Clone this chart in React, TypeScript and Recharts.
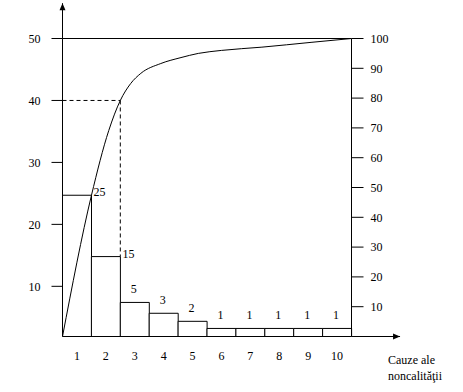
import { Bar, ComposedChart, Label, LabelList, Line, ReferenceLine, XAxis, YAxis } from "recharts"

const causes = ["1", "2", "3", "4", "5", "6", "7", "8", "9", "10"]
// numbers written on the bars
const counts = [25, 15, 5, 3, 2, 1, 1, 1, 1, 1]
// bar heights as they are drawn against the left scale (the sketch is not to scale)
const barHeights = [24.7, 14.8, 7.4, 5.65, 4.35, 3.2, 3.2, 3.2, 3.2, 3.2]
const leftTicks = [10, 20, 30, 40, 50]
const rightTicks = [10, 20, 30, 40, 50, 60, 70, 80, 90, 100]
// cumulative curve (x in causes, y in percent)
const curveX = [0, 1, 1.6, 2, 2.36, 2.71, 3.4, 4.1, 4.7, 5.5, 6.9, 8.6, 10]
const curvePct = [0, 47.3, 69.1, 79.2, 84.9, 88.3, 91.6, 93.6, 95.0, 96.0, 97.1, 98.7, 100]

const leftMin = 1.9
const leftMax = 50
const arrowTop = 55.7
const arrowRight = 11.68
const markCount = 40
const markCause = 2
const sideLabels = 2

const font = "Liberation Serif, Times New Roman, serif"

const data = causes.map((c, i) => ({ cause: c, height: barHeights[i], count: counts[i] }))
const curve = curveX.map((x, i) => ({ x, pct: curvePct[i] }))

const Arrow = (p: any) => {
  const dx = p.x2 - p.x1
  const dy = p.y2 - p.y1
  const len = Math.sqrt(dx * dx + dy * dy) || 1
  const ux = dx / len
  const uy = dy / len
  const bx = p.x2 - ux * 7
  const by = p.y2 - uy * 7
  return (
    <g>
      <line x1={p.x1} y1={p.y1} x2={p.x2} y2={p.y2} stroke="#000" strokeWidth={1} />
      <polygon
        points={`${p.x2},${p.y2} ${bx - uy * 3},${by + ux * 3} ${bx + uy * 3},${by - ux * 3}`}
        fill="#000"
      />
    </g>
  )
}

const BarLabel = (p: any) => {
  const { x, y, width, index } = p
  if (index < sideLabels) {
    return (
      <text x={x + width + 2} y={y + 1} fontFamily={font} fontSize={12} fill="#000">
        {counts[index]}
      </text>
    )
  }
  return (
    <text x={x + width / 2 - 1} y={y - 9} textAnchor="middle" fontFamily={font} fontSize={12} fill="#000">
      {counts[index]}
    </text>
  )
}

const AxisTitle = (p: any) => {
  const vb = p.viewBox
  const x = vb.x + vb.width + 36.5
  return (
    <text x={x} y={vb.y + 27.5} fontFamily={font} fontSize={12} fill="#000">
      <tspan x={x}>Cauze ale</tspan>
      <tspan x={x} dy={16}>noncalităţii</tspan>
    </text>
  )
}

export default function App() {
  const tick = { fill: "#000", fontFamily: font, fontSize: 12 }
  return (
    <div style={{ position: "absolute", left: 0, top: 0, background: "#fff" }}>
      <ComposedChart
        width={463}
        height={392}
        data={data}
        barCategoryGap={0}
        margin={{ top: 38.5, right: 51.5, bottom: 25.5, left: 0.5 }}
      >
        <XAxis
          xAxisId="cat"
          dataKey="cause"
          height={30}
          tick={tick}
          tickLine={false}
          tickSize={0}
          tickMargin={15}
          axisLine={{ stroke: "#000" }}
        >
          <Label content={AxisTitle} />
        </XAxis>
        <XAxis xAxisId="line" type="number" dataKey="x" domain={[0, 10]} allowDataOverflow hide />
        <YAxis
          yAxisId="left"
          width={62}
          type="number"
          domain={[leftMin, leftMax]}
          allowDataOverflow
          ticks={leftTicks}
          interval={0}
          tick={tick}
          tickSize={11}
          tickMargin={11}
          tickLine={{ stroke: "#000" }}
          axisLine={{ stroke: "#000" }}
        />
        <YAxis
          yAxisId="right"
          orientation="right"
          width={60}
          type="number"
          domain={[0, 100]}
          allowDataOverflow
          ticks={rightTicks}
          interval={0}
          tick={tick}
          tickSize={12}
          tickMargin={7}
          tickLine={{ stroke: "#000" }}
          axisLine={{ stroke: "#000" }}
        />
        <Bar
          xAxisId="cat"
          yAxisId="left"
          dataKey="height"
          fill="#fff"
          stroke="#000"
          strokeWidth={1}
          isAnimationActive={false}
        >
          <LabelList dataKey="count" content={BarLabel} />
        </Bar>
        <ReferenceLine xAxisId="cat" yAxisId="left" y={leftMax} stroke="#000" ifOverflow="visible" />
        <ReferenceLine
          xAxisId="line"
          yAxisId="left"
          segment={[{ x: 0, y: markCount }, { x: markCause, y: markCount }]}
          stroke="#000"
          strokeDasharray="4 3"
          ifOverflow="visible"
        />
        <ReferenceLine
          xAxisId="line"
          yAxisId="left"
          segment={[{ x: markCause, y: markCount }, { x: markCause, y: barHeights[markCause - 1] }]}
          stroke="#000"
          strokeDasharray="4 3"
          ifOverflow="visible"
        />
        <ReferenceLine
          xAxisId="line"
          yAxisId="left"
          segment={[{ x: 0, y: leftMax }, { x: 0, y: arrowTop }]}
          ifOverflow="visible"
          shape={Arrow}
        />
        <ReferenceLine
          xAxisId="line"
          yAxisId="right"
          segment={[{ x: 10, y: 0 }, { x: arrowRight, y: 0 }]}
          ifOverflow="visible"
          shape={Arrow}
        />
        <Line
          xAxisId="line"
          yAxisId="right"
          data={curve}
          dataKey="pct"
          type="monotone"
          dot={false}
          stroke="#000"
          strokeWidth={1}
          isAnimationActive={false}
        />
      </ComposedChart>
    </div>
  )
}
